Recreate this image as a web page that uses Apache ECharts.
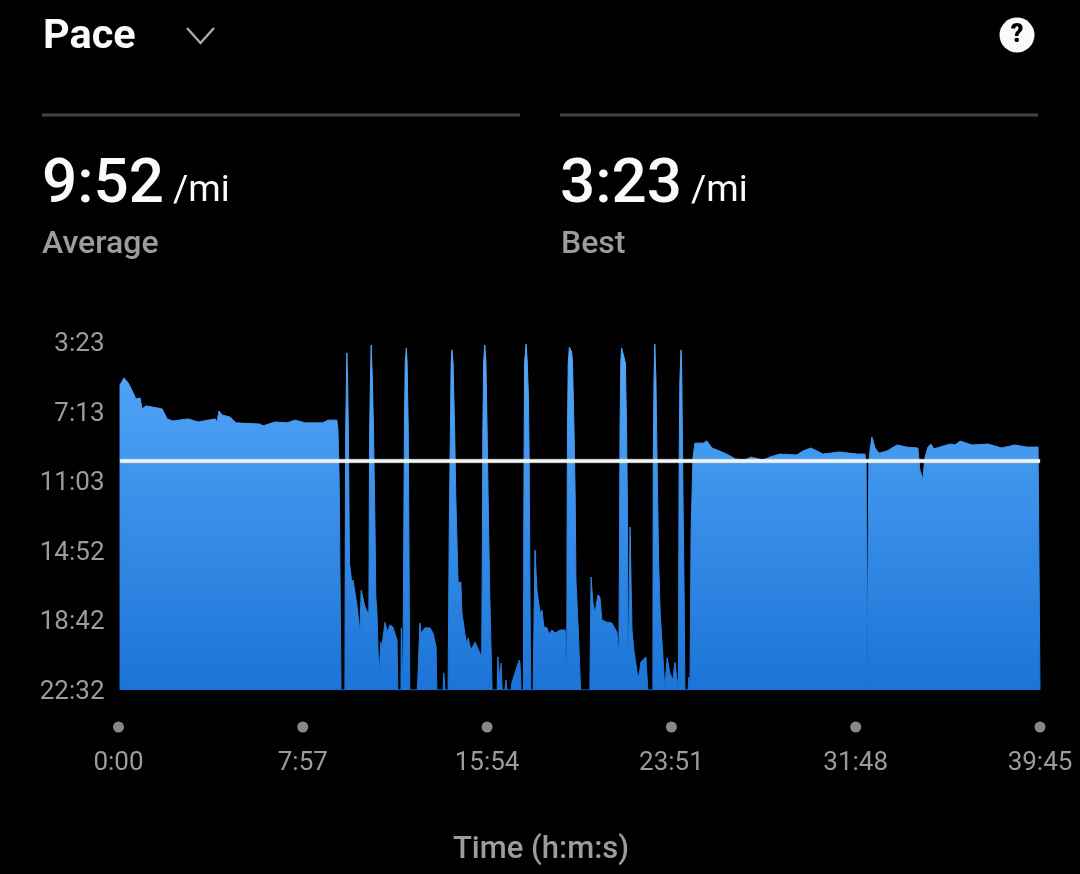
<!DOCTYPE html>
<html><head><meta charset="utf-8">
<style>html,body{margin:0;padding:0;background:#000}#c{width:1080px;height:874px}</style>
<script src="https://cdn.jsdelivr.net/npm/echarts@6/dist/echarts.min.js"></script>
</head><body><div id="c"></div>
<script>
const chartTitle = 'Pace';
const averageLabel = 'Average', bestLabel = 'Best', unit = '/mi';
const averageText = '9:52', bestText = '3:23';
const averageLine = 595;
const xTicks = [0, 477, 954, 1431, 1908, 2385];
const yTicks = [203, 433, 663, 892, 1122, 1352];
const times = [4,4,14,25,38,45,56,61,71,89,113,126,141,180,206,250,255,260,268,289,304,366,374,405,436,457,483,529,542,565,568,571,576,
586,587,588,590,591,593,595,597,598,604,607,617,620,625,628,638,648,650,652,654,657,660,664,666,669,674,679,682,690,695,703,710,721,723,
731,732,736,738,740,742,745,747,750,754,773,775,780,783,793,806,814,822,824,840,842,845,
853,855,856,859,861,863,866,870,873,879,886,889,897,902,905,912,923,940,942,943,945,948,951,954,958,961,967,
980,982,987,990,993,1000,1003,1005,1016,1018,1037,1039,1042,1048,1049,1050,1051,1055,1058,1061,1063,1065,1067,
1073,1078,1083,1091,1096,1101,1109,1114,1122,1130,1143,1156,1160,1161,1162,1164,1167,1173,1175,1179,1182,1184,1190,1196,
1220,1223,1228,1233,1241,1246,1251,1264,1277,1290,1295,1297,1298,1300,1302,1306,1312,1315,1317,1319,1324,1329,1334,1342,1347,1352,1357,1365,1370,
1383,1384,1386,1388,1391,1394,1398,1402,1408,1414,1420,1427,1435,1440,1449,1451,1453,1456,1458,1461,1464,1466,1474,1476,1479,
1482,1487,1492,1513,1523,1536,1562,1583,1596,1621,1637,1668,1686,1712,1756,1771,1792,1808,1823,1867,1911,1932,1935,1937,1940,
1942,1945,1950,1958,1968,1989,2015,2040,2069,2074,2082,2087,2095,2103,2110,2144,2154,2165,2178,2209,2250,2286,2320,2351,2380,2385,2385];
const paces = [1352,345,322,338,371,391,388,424,414,418,424,457,464,457,467,457,467,431,444,451,470,474,480,467,470,461,470,470,461,461,494,649,1352,
1352,824,494,328,239,328,494,824,933,999,989,1071,1065,1164,1022,1078,1104,494,328,213,328,494,824,1045,1098,1312,1194,1204,1128,1161,1137,1144,1187,1352,
1352,1147,1352,1352,494,272,223,272,494,1352,1352,1309,1131,1164,1147,1147,1164,1210,1352,1352,1296,1352,
1352,1352,824,494,272,229,272,494,715,999,995,1098,1170,1204,1180,1220,1194,1243,824,494,272,213,272,494,824,1045,1352,
1352,1243,1319,1263,1352,1352,1319,1352,1352,1329,1253,1262,1352,1352,824,494,272,210,272,385,603,1045,1352,
1352,890,1022,1098,1088,1144,1147,1167,1154,1164,1154,1154,1329,824,494,272,220,236,272,494,715,989,1154,1352,
1352,979,1065,1098,1038,1045,1121,1128,1131,1161,1237,824,494,272,223,226,272,494,715,1342,814,1154,1220,1293,1309,1260,1253,1243,1352,
1352,603,328,210,328,603,933,1098,1220,1352,1246,1296,1319,1260,1352,603,328,229,328,715,1045,1352,1352,1309,1352,
824,583,537,537,530,553,566,579,589,593,583,593,583,573,576,563,553,563,573,566,573,573,603,1352,1352,
603,560,517,553,570,563,543,550,553,626,655,586,550,540,556,543,540,543,530,543,540,553,543,550,550,550,1352];
const fmt = v => Math.floor(v/60) + ':' + String(Math.round(v%60)).padStart(2,'0');
const gray = '#9c9c9c';
const F = 'Roboto, sans-serif';
const grad = () => new echarts.graphic.LinearGradient(0,0,0,1,[{offset:0,color:'#55A8F9'},{offset:1,color:'#1B74D7'}]);
const txt = (x,y,t,size,color,weight,align) => ({type:'text',x,y,silent:true,
  style:{text:t,fontFamily:F,fontSize:size,fill:color,fontWeight:weight||400,align:align||'left',verticalAlign:'middle'}});
const chart = echarts.init(document.getElementById('c'),null,{renderer:'canvas',width:1080,height:874});
chart.setOption({
  backgroundColor:'#000', animation:false,
  grid:[{left:118.5,top:342,width:921.5,height:348},{left:118.5,top:717,width:921.5,height:20}],
  xAxis:[
    {type:'value',gridIndex:0,min:0,max:2385,interval:477,axisLine:{show:false},axisTick:{show:false},axisLabel:{show:false},splitLine:{show:false}},
    {type:'value',gridIndex:1,min:0,max:2385,interval:477,position:'bottom',axisLine:{show:false},axisTick:{show:false},splitLine:{show:false},
     axisLabel:{color:gray,fontFamily:F,fontSize:26,margin:11,formatter:fmt,showMinLabel:true,showMaxLabel:true,hideOverlap:false,lineHeight:30}}
  ],
  yAxis:[
    {type:'value',gridIndex:0,inverse:true,min:203,max:1352,axisLine:{show:false},axisTick:{show:false},splitLine:{show:false},
     axisLabel:{color:gray,fontFamily:F,fontSize:26,margin:14,customValues:yTicks,
       formatter:v=>'{a|'+fmt(v)+'}',rich:{a:{color:gray,fontFamily:F,fontSize:26,padding:[5,0,0,0]}}}},
    {type:'value',gridIndex:1,min:0,max:1,show:false}
  ],
  series:[
    {type:'line',xAxisIndex:0,yAxisIndex:0,data:times.map((t,i)=>[t,paces[i]]),showSymbol:false,symbol:'none',smooth:false,silent:true,
     lineStyle:{width:1,color:grad(),join:'round'},
     areaStyle:{origin:'end',opacity:1,color:grad()},
     markLine:{silent:true,symbol:'none',label:{show:false},animation:false,
       lineStyle:{color:'#f4f4f4',width:3.5,type:'solid',shadowColor:'rgba(255,255,255,0.5)',shadowBlur:2},
       data:[[{coord:[4,averageLine]},{coord:[2385,averageLine]}]]}},
    {type:'scatter',xAxisIndex:1,yAxisIndex:1,data:xTicks.map(t=>[t,0.5]),symbolSize:11,silent:true,clip:false,itemStyle:{color:'#aaaaaa'}}
  ],
  graphic:[
    txt(43,38,chartTitle,41.5,'#fafafa',700),
    {type:'polyline',silent:true,shape:{points:[[187,28],[200.5,43],[214,28]]},style:{stroke:'#a8a8a8',lineWidth:2.5,fill:null}},
    {type:'circle',silent:true,shape:{cx:1017,cy:35,r:17.5},style:{fill:'#fafafa'}},
    txt(1017,36,'?',25,'#000',900,'center'),
    {type:'line',silent:true,shape:{x1:42,y1:115,x2:520,y2:115},style:{stroke:'#444',lineWidth:3}},
    {type:'line',silent:true,shape:{x1:560,y1:115,x2:1038,y2:115},style:{stroke:'#444',lineWidth:3}},
    txt(42,186,averageText,62,'#fafafa',500),
    txt(173,192,unit,37,'#fafafa',400),
    txt(42,245,averageLabel,32,gray,500),
    txt(560,186,bestText,62,'#fafafa',500),
    txt(691,192,unit,37,'#fafafa',400),
    txt(561,245,bestLabel,32,gray,500),
    txt(541,850,'Time (h:m:s)',31,gray,500,'center')
  ]
});
</script></body></html>
